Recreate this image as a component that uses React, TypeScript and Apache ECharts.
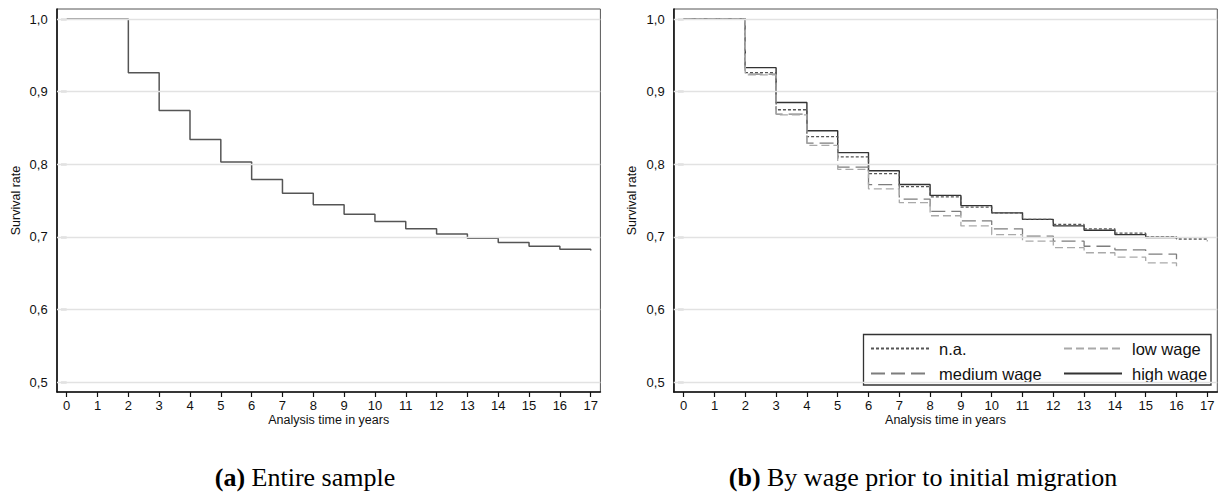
import React, { useEffect, useRef } from "react";
import * as echarts from "echarts";

// ---------- data ----------
const years = [0, 1, 2, 3, 4, 5, 6, 7, 8, 9, 10, 11, 12, 13, 14, 15, 16, 17];
const yTicks = [0.5, 0.6, 0.7, 0.8, 0.9, 1.0];

// (a) Entire sample
const entireSample = [1.0, 1.0, 0.926, 0.874, 0.834, 0.803, 0.779, 0.760, 0.744, 0.731, 0.721, 0.711, 0.704, 0.698, 0.692, 0.687, 0.683, 0.681];

// (b) By wage prior to initial migration
const naWage = [1.0, 1.0, 0.926, 0.875, 0.838, 0.810, 0.787, 0.769, 0.755, 0.741, 0.733, 0.724, 0.717, 0.711, 0.705, 0.700, 0.697, 0.694];
const lowWage = [1.0, 1.0, 0.923, 0.868, 0.826, 0.793, 0.766, 0.747, 0.729, 0.715, 0.703, 0.694, 0.685, 0.678, 0.672, 0.664, 0.659];
const mediumWage = [1.0, 1.0, 0.924, 0.869, 0.829, 0.796, 0.772, 0.752, 0.735, 0.722, 0.711, 0.701, 0.694, 0.687, 0.682, 0.676, 0.669];
const highWage = [1.0, 1.0, 0.933, 0.885, 0.846, 0.816, 0.791, 0.772, 0.757, 0.743, 0.733, 0.724, 0.715, 0.709, 0.703, 0.699, 0.697];

const seriesNames = ["n.a.", "low wage", "medium wage", "high wage"];
const captions = ["Entire sample", "By wage prior to initial migration"];

const pairs = (vals: number[]) => vals.map((v, i) => [years[i], v]);

const SANS = "'Liberation Sans', Arial, Helvetica, sans-serif";
const SERIF = "'Liberation Serif', 'Times New Roman', serif";

export default function App() {
  const ref = useRef<HTMLDivElement>(null);

  useEffect(() => {
    if (!ref.current) return;
    const chart = echarts.init(ref.current, null, { renderer: "svg" });

    const padPx = 10;
    const innerH = 363;
    const pxPerUnit = innerH / 0.5;
    const outerYMin = 0.5 - padPx / pxPerUnit;
    const outerYMax = 1.0 + padPx / pxPerUnit;

    const panels = [
      { outerLeft: 57, innerLeft: 66.7, innerW: 524 },
      { outerLeft: 673.7, innerLeft: 683.7, innerW: 523.6 },
    ];

    const grids: any[] = [];
    const xAxes: any[] = [];
    const yAxes: any[] = [];
    panels.forEach((p) => {
      const outerW = p.innerW + 2 * (p.innerLeft - p.outerLeft);
      grids.push({
        left: p.outerLeft,
        top: 9,
        width: outerW,
        height: innerH + 2 * padPx,
        show: true,
        borderColor: "#555",
        borderWidth: 1,
        backgroundColor: "transparent",
      });
      grids.push({ left: p.innerLeft, top: 19, width: p.innerW, height: innerH });
    });

    [0, 1].forEach((k) => {
      const og = 2 * k;
      const ig = 2 * k + 1;
      xAxes.push({
        gridIndex: og,
        type: "value",
        min: 0,
        max: 1,
        axisLine: { show: true, lineStyle: { color: "#111", width: 1.6 } },
        axisTick: { show: false },
        axisLabel: { show: false },
        splitLine: { show: false },
        name: "Analysis time in years",
        nameLocation: "middle",
        nameGap: 21,
        nameTextStyle: { fontFamily: SANS, fontSize: 12.5, color: "#111" },
      });
      xAxes.push({
        gridIndex: ig,
        type: "value",
        min: 0,
        max: 17,
        interval: 1,
        offset: padPx,
        axisLine: { show: false },
        axisTick: { show: true, length: 5, lineStyle: { color: "#111", width: 1.2 } },
        axisLabel: { fontFamily: SANS, fontSize: 13, color: "#111", margin: 7, showMinLabel: true, showMaxLabel: true },
        splitLine: { show: false },
      });
      yAxes.push({
        gridIndex: og,
        type: "value",
        min: outerYMin,
        max: outerYMax,
        axisLine: { show: true, lineStyle: { color: "#111", width: 1.6 } },
        axisTick: { show: false },
        axisLabel: { show: false },
        splitLine: { show: false },
        name: "Survival rate",
        nameLocation: "middle",
        nameGap: 35,
        nameTextStyle: { fontFamily: SANS, fontSize: 12.5, color: "#111" },
      });
      yAxes.push({
        gridIndex: ig,
        type: "value",
        min: 0.5,
        max: 1.0,
        interval: 0.1,
        offset: padPx,
        axisLine: { show: false },
        axisTick: { show: true, length: 6, lineStyle: { color: "#111", width: 1.2 } },
        axisLabel: {
          fontFamily: SANS,
          fontSize: 13,
          color: "#111",
          margin: 9,
          formatter: (v: number) => v.toFixed(1).replace(".", ","),
        },
        splitLine: { show: false },
      });
    });

    const gridLineSeries = (k: number) => ({
      type: "line",
      xAxisIndex: 2 * k,
      yAxisIndex: 2 * k,
      data: [],
      silent: true,
      z: 1,
      markLine: {
        silent: true,
        symbol: ["none", "none"],
        label: { show: false },
        lineStyle: { color: "#e2e2e2", type: "solid", width: 1.3 },
        data: yTicks.map((v) => ({ yAxis: v })),
      },
    });

    const stepSeries = (name: string, vals: number[], k: number, color: string, width: number, type: any) => ({
      name,
      type: "line",
      step: "end",
      xAxisIndex: 2 * k + 1,
      yAxisIndex: 2 * k + 1,
      data: pairs(vals),
      symbol: "none",
      showSymbol: false,
      z: 3,
      lineStyle: { color, width, type },
      itemStyle: { color },
    });

    const legendBase = {
      orient: "vertical",
      top: 340,
      itemWidth: 58,
      itemHeight: 16,
      itemGap: 8,
      padding: 0,
      selectedMode: false,
      itemStyle: { opacity: 0, borderWidth: 0 },
      textStyle: { fontFamily: SANS, fontSize: 16.5, color: "#111", lineHeight: 16, padding: [0, 0, 0, 5] },
    };

    const captionText = (label: string, text: string, x: number) => ({
      type: "text",
      x,
      y: 477,
      style: {
        text: "{b|(" + label + ")} " + text,
        fontFamily: SERIF,
        fontSize: 26,
        fill: "#000",
        align: "center",
        verticalAlign: "middle",
        rich: { b: { fontWeight: "bold", fontFamily: SERIF, fontSize: 26 } },
      },
    });

    chart.setOption({
      animation: false,
      backgroundColor: "#fff",
      grid: grids,
      xAxis: xAxes,
      yAxis: yAxes,
      legend: [
        { ...legendBase, left: 870, data: [seriesNames[0], seriesNames[2]] },
        { ...legendBase, left: 1063, data: [seriesNames[1], seriesNames[3]] },
      ],
      series: [
        gridLineSeries(0),
        gridLineSeries(1),
        { ...stepSeries("Entire sample", entireSample, 0, "#555", 1.5, "solid") },
        stepSeries(seriesNames[3], highWage, 1, "#333", 1.4, "solid"),
        stepSeries(seriesNames[0], naWage, 1, "#555", 1.3, [3, 2]),
        stepSeries(seriesNames[2], mediumWage, 1, "#7d7d7d", 1.3, [14, 6]),
        stepSeries(seriesNames[1], lowWage, 1, "#a9a9a9", 1.3, [8, 4]),
      ],
      graphic: [
        {
          type: "rect",
          z: 2,
          shape: { x: 863.5, y: 334.5, width: 347.5, height: 50.5 },
          style: { fill: "#fff", stroke: "#333", lineWidth: 1.3 },
        },
        captionText("a", captions[0], 305),
        captionText("b", captions[1], 923),
      ],
    });

    return () => chart.dispose();
  }, []);

  return (
    <div
      ref={ref}
      style={{ position: "absolute", left: 0, top: 0, width: 1218, height: 496, background: "#fff" }}
    />
  );
}
